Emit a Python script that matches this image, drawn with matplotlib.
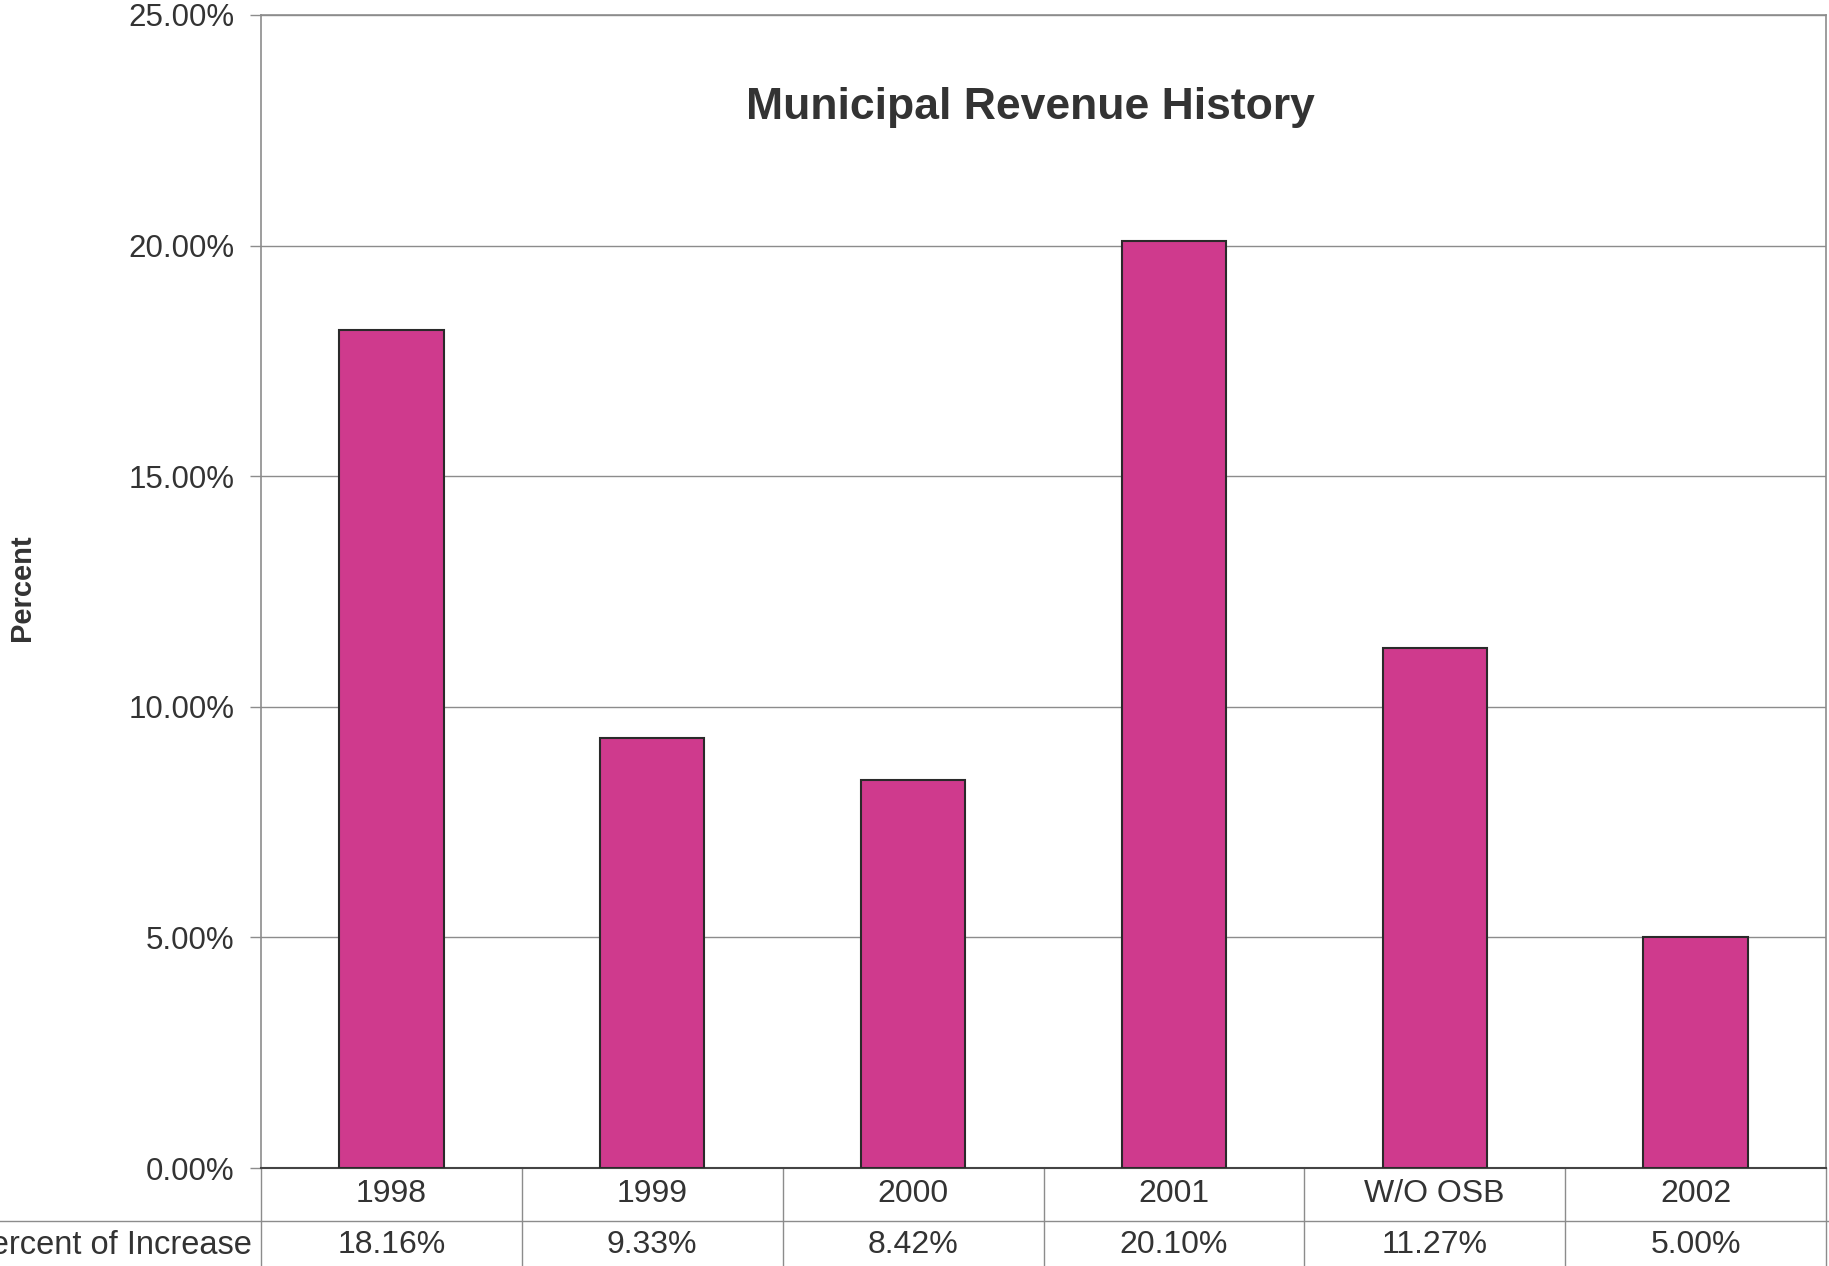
import matplotlib
matplotlib.use("Agg")
import matplotlib.pyplot as plt
from matplotlib.lines import Line2D
from matplotlib.ticker import FuncFormatter

# Datos del gráfico
categorias = ["1998", "1999", "2000", "2001", "W/O OSB", "2002"]
incremento = [18.16, 9.33, 8.42, 20.10, 11.27, 5.00]
etiqueta_fila = "Percent of Increase"
titulo = "Municipal Revenue History"

plt.rcParams['font.family'] = ['Liberation Sans', 'DejaVu Sans']
texto = '#333333'
gris = '#8c8c8c'

W, H = 1829, 1266
fig = plt.figure(figsize=(W / 100, H / 100), dpi=100)
fig.patch.set_facecolor('white')

# Área del gráfico (en píxeles de la figura)
x0, x1, ytop, ybot = 261, 1826, 15, 1168
ax = fig.add_axes([x0 / W, 1 - ybot / H, (x1 - x0) / W, (ybot - ytop) / H])

pos = list(range(len(categorias)))
ax.bar(pos, incremento, width=0.40, color='#CF3A8D',
       edgecolor='#2a2a2a', linewidth=1.5, zorder=3)

ax.set_xlim(-0.5, len(categorias) - 0.5)
ax.set_ylim(0, 25)
ax.set_yticks([0, 5, 10, 15, 20, 25])
ax.yaxis.set_major_formatter(FuncFormatter(lambda v, p: f"{v:.2f}%"))
ax.tick_params(axis='y', labelsize=22.5, colors=gris, labelcolor=texto,
               length=8, width=1, pad=11)
ax.tick_params(axis='x', bottom=False, labelbottom=False)
ax.grid(axis='y', color=gris, linewidth=1, zorder=0)

for lado in ['left', 'top', 'right']:
    ax.spines[lado].set_color(gris)
    ax.spines[lado].set_linewidth(1.2)
ax.spines['bottom'].set_color('#444444')
ax.spines['bottom'].set_linewidth(1.5)

# Título dentro del área del gráfico
fig.text(1030 / W, 1 - 108 / H, titulo, ha='center', va='center',
         fontsize=32, fontweight='bold', color=texto)

# Etiqueta del eje Y
fig.text(22 / W, 1 - 588 / H, "Percent", rotation=90, ha='center',
         va='center', fontsize=21, fontweight='bold', color=texto)

# Tabla de datos bajo el eje
alto = ybot - ytop
trans = ax.get_xaxis_transform()
y_fila1 = -(1194 - ybot) / alto
y_fila2 = -(1245 - ybot) / alto
for i, (cat, val) in enumerate(zip(categorias, incremento)):
    ax.text(i, y_fila1, cat, transform=trans, ha='center', va='center',
            fontsize=23, color=texto, clip_on=False)
    ax.text(i, y_fila2, f"{val:.2f}%", transform=trans, ha='center',
            va='center', fontsize=23, color=texto, clip_on=False)
for i in range(len(categorias) + 1):
    ax.add_line(Line2D([i - 0.5, i - 0.5], [0, -0.12], transform=trans,
                       color=gris, linewidth=1, clip_on=False))
fig.add_artist(Line2D([0, 1], [1 - 1221 / H, 1 - 1221 / H],
                      transform=fig.transFigure, color=gris, linewidth=1))
fig.text(252 / W, 1 - 1245 / H, etiqueta_fila, ha='right', va='center',
         fontsize=23.5, color=texto)

fig.savefig('out.png', dpi=100)
